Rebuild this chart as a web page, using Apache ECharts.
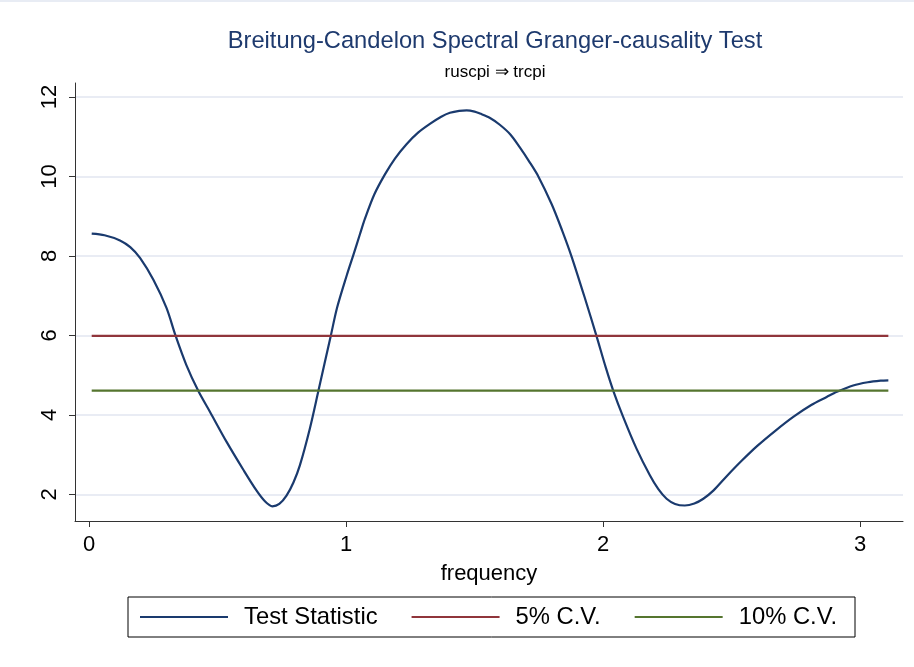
<!DOCTYPE html>
<html>
<head>
<meta charset="utf-8">
<script src="https://cdn.jsdelivr.net/npm/echarts@6/dist/echarts.min.js"></script>
<style>
  html, body { margin: 0; padding: 0; background: #fff; }
  #chart { width: 914px; height: 665px; border-top: 2px solid #e8ecf4; }
</style>
</head>
<body>
<div id="chart"></div>
<script>
// frequency grid
const freq = [0.01, 0.06, 0.12, 0.16, 0.198, 0.25, 0.301, 0.337, 0.378, 0.425,
  0.47, 0.535, 0.60, 0.651, 0.685, 0.713, 0.74, 0.768, 0.795, 0.82,
  0.859, 0.892, 0.94, 0.965, 1.002, 1.028, 1.054, 1.073, 1.11, 1.151,
  1.19, 1.235, 1.28, 1.326, 1.37, 1.404, 1.44, 1.469, 1.50, 1.521,
  1.56, 1.598, 1.64, 1.676, 1.712, 1.748, 1.80, 1.84, 1.877, 1.929,
  1.975, 2.01, 2.04, 2.078, 2.13, 2.182, 2.215, 2.247, 2.28, 2.318,
  2.355, 2.39, 2.43, 2.48, 2.54, 2.60, 2.67, 2.74, 2.81, 2.87,
  2.91, 2.973, 3.03, 3.08, 3.11]
const testStat = [8.56, 8.52, 8.39, 8.22, 7.95, 7.40, 6.69, 5.98, 5.26, 4.60,
  4.08, 3.32, 2.62, 2.10, 1.82, 1.70, 1.76, 1.97, 2.30, 2.73,
  3.66, 4.60, 5.98, 6.70, 7.50, 8.02, 8.55, 8.93, 9.55, 10.05,
  10.45, 10.81, 11.10, 11.32, 11.50, 11.60, 11.65, 11.66, 11.63, 11.58,
  11.47, 11.30, 11.05, 10.73, 10.38, 10.00, 9.30, 8.65, 7.99, 6.94,
  5.97, 5.20, 4.60, 3.95, 3.15, 2.48, 2.13, 1.89, 1.76, 1.72,
  1.77, 1.89, 2.10, 2.45, 2.85, 3.22, 3.60, 3.95, 4.25, 4.45,
  4.58, 4.74, 4.82, 4.86, 4.87]
const cv5 = 5.99
const cv10 = 4.61
const xTicks = [0, 1, 2, 3]
const yTicks = [2, 4, 6, 8, 10, 12]

const font = 'Liberation Sans, Arial, sans-serif'
const myChart = echarts.init(document.getElementById('chart'))

const statData = freq.map((f, i) => [f, testStat[i]])
const cv5Data = freq.map(f => [f, cv5])
const cv10Data = freq.map(f => [f, cv10])

const option = {
  animation: false,
  title: {
    text: 'Breitung-Candelon Spectral Granger-causality Test',
    subtext: 'ruscpi ⇒ trcpi',
    left: 490,
    textAlign: 'center',
    top: 22,
    itemGap: 11,
    textStyle: { fontFamily: font, fontSize: 23.7, fontWeight: 'normal', color: '#1e3a6e' },
    subtextStyle: { fontFamily: font, fontSize: 17, color: '#000' }
  },
  grid: { left: 75, right: 11, top: 81, bottom: 146 },
  xAxis: {
    type: 'value',
    min: -0.055,
    max: 3.167,
    name: 'frequency',
    nameLocation: 'middle',
    nameGap: 42,
    nameTextStyle: { fontFamily: font, fontSize: 22, color: '#000' },
    axisLine: { onZero: false, lineStyle: { color: '#333', width: 1 } },
    axisTick: { show: true, length: 6, lineStyle: { color: '#333' }, customValues: xTicks },
    axisLabel: { fontFamily: font, fontSize: 22, color: '#000', margin: 13, customValues: xTicks },
    splitLine: { show: false }
  },
  yAxis: {
    type: 'value',
    min: 1.33,
    max: 12.35,
    axisLine: { show: true, onZero: false, lineStyle: { color: '#333', width: 1 } },
    axisTick: { show: true, length: 6, lineStyle: { color: '#333' }, customValues: yTicks },
    axisLabel: { fontFamily: font, fontSize: 22, color: '#000', rotate: 90, margin: 14, customValues: yTicks },
    splitLine: { show: true, lineStyle: { color: '#e2e6f0', width: 1.5 } }
  },
  legend: {
    left: 128,
    top: 595,
    orient: 'horizontal',
    icon: 'rect',
    itemWidth: 88,
    itemHeight: 2,
    itemGap: 34,
    padding: [8, 18, 8, 12],
    borderColor: '#000',
    borderWidth: 1,
    borderRadius: 0,
    textStyle: { fontFamily: font, fontSize: 23.8, color: '#000', padding: [0, 0, 0, 11] },
    data: [
      'Test Statistic',
      { name: '5% C.V.', textStyle: { padding: [0, 22, 0, 11] } },
      '10% C.V.'
    ]
  },
  series: [
    {
      name: 'Test Statistic',
      type: 'line',
      data: statData,
      smooth: 0.3,
      showSymbol: false,
      symbol: 'none',
      lineStyle: { color: '#1a3a6e', width: 2.2 },
      itemStyle: { color: '#1a3a6e' }
    },
    {
      name: '5% C.V.',
      type: 'line',
      data: cv5Data,
      showSymbol: false,
      symbol: 'none',
      lineStyle: { color: '#90353b', width: 2.2 },
      itemStyle: { color: '#90353b' }
    },
    {
      name: '10% C.V.',
      type: 'line',
      data: cv10Data,
      showSymbol: false,
      symbol: 'none',
      lineStyle: { color: '#55752f', width: 2.2 },
      itemStyle: { color: '#55752f' }
    }
  ]
}

myChart.setOption(option)
</script>
</body>
</html>
